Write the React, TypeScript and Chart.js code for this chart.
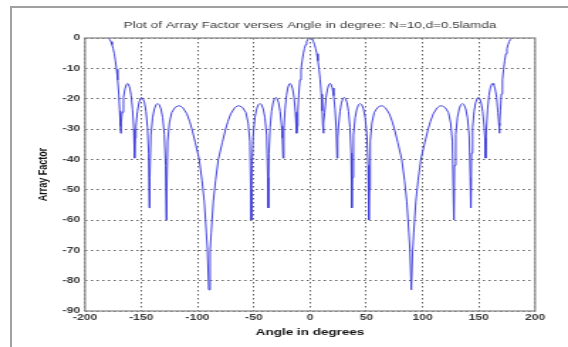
import { useEffect, useRef } from "react";
import { Chart, registerables } from "chart.js";

Chart.register(...registerables);

// ---- Data (angle in degrees, array factor in dB) ----
const leftOuterAngle = [
  -180, -179, -178, -177, -176, -175, -174, -173, -172, -171, -170, -169.2, -168.6, -168.2, -167.8, -167,
  -165.8, -164.5, -163.3, -162.4, -161.4, -160.2, -159, -157.8, -156.7, -156, -155.4, -154.7, -153.4,
  -152.1, -150.8, -149.7, -148.4, -147.1, -145.8, -144.5, -143.5, -142.9, -142.4, -141.4, -139.9, -138.4,
  -136.9, -135.5, -134, -132.5, -131, -129.5, -128.4, -127.8, -127.3, -126.5, -125, -123, -120, -117.5,
  -115.4, -113, -109.5, -107, -105, -102, -98.5, -96, -94, -92.2, -91.2,
];
const leftOuterAF = [
  0, -0.1, -0.5, -1.2, -2.2, -3.5, -5.2, -7.5, -10.3, -13.8, -18.5, -24, -29, -31.4, -28, -24.5,
  -19.6, -16.8, -15.4, -15, -15.2, -16.5, -19, -23.5, -30, -39.6, -33, -29, -24.2,
  -21.4, -20, -19.6, -20, -21.4, -24.2, -29.5, -38, -56, -46, -32, -26.2, -23.4,
  -22, -21.6, -22, -23.4, -26.2, -31.8, -42, -60, -50, -34, -28, -24.6, -22.9, -22.4,
  -22.4, -23, -25, -27.5, -30, -34.5, -40, -47, -54, -64, -70,
];

const leftInnerAngle = [
  -90, -88.8, -87.8, -86, -84, -81.5, -78, -75, -73, -70.5, -67, -64.6, -62.5, -60, -57, -55, -53.5,
  -52.7, -52.2, -51.6, -50.5, -49, -47.5, -46, -44.5, -43.1, -41.6, -40.1, -38.6, -37.6, -37.1, -36.5,
  -35.5, -34.2, -32.9, -31.6, -30.3, -29.2, -27.9, -26.6, -25.3, -24.6, -24, -23.3, -22.2, -21, -19.8,
  -18.6, -17.6, -16.7, -15.5, -14.2, -13, -12.2, -11.8, -11.4, -10.8, -10, -9, -8, -7, -6, -5, -4, -3,
  -2, -1,
];
const leftInnerAF = [
  -83, -70, -64, -54, -47, -40, -34.5, -30, -27.5, -25, -23, -22.4, -22.4, -22.9, -24.6, -28, -34,
  -50, -60, -42, -31.8, -26.2, -23.4, -22, -21.6, -22, -23.4, -26.2, -32, -46, -56, -38,
  -29.5, -24.2, -21.4, -20, -19.6, -20, -21.4, -24.2, -29, -33, -39.6, -30, -23.5, -19, -16.5,
  -15.2, -15, -15.4, -16.8, -19.6, -24.5, -28, -31.4, -29, -24, -18.5, -13.8, -10.3, -7.5, -5.2, -3.5, -2.2, -1.2,
  -0.5, -0.1,
];

const rightInnerAngle = [
  0, 1, 2, 3, 4, 5, 6, 7, 8, 9, 10, 10.8, 11.4, 11.8, 12.2, 13, 14.2, 15.5, 16.7, 17.6, 18.6, 19.8, 21,
  22.2, 23.3, 24, 24.6, 25.3, 26.6, 27.9, 29.2, 30.3, 31.6, 32.9, 34.2, 35.5, 36.5, 37.1, 37.6, 38.6,
  40.1, 41.6, 43.1, 44.5, 46, 47.5, 49, 50.5, 51.6, 52.2, 52.7, 53.5, 55, 57, 60, 62.5, 64.6, 67, 70.5,
  73, 75, 78, 81.5, 84, 86, 87.8, 88.8, 90,
];
const rightInnerAF = [
  0, -0.1, -0.5, -1.2, -2.2, -3.5, -5.2, -7.5, -10.3, -13.8, -18.5, -24, -29, -31.4, -28, -24.5, -19.6, -16.8, -15.4, -15, -15.2, -16.5, -19,
  -23.5, -30, -39.6, -33, -29, -24.2, -21.4, -20, -19.6, -20, -21.4, -24.2, -29.5, -38, -56, -46, -32,
  -26.2, -23.4, -22, -21.6, -22, -23.4, -26.2, -31.8, -42, -60, -50, -34, -28, -24.6, -22.9, -22.4, -22.4, -23, -25,
  -27.5, -30, -34.5, -40, -47, -54, -64, -70, -83,
];

const rightOuterAngle = [
  91.2, 92.2, 94, 96, 98.5, 102, 105, 107, 109.5, 113, 115.4, 117.5, 120, 123, 125, 126.5, 127.3, 127.8,
  128.4, 129.5, 131, 132.5, 134, 135.5, 136.9, 138.4, 139.9, 141.4, 142.4, 142.9, 143.5, 144.5, 145.8,
  147.1, 148.4, 149.7, 150.8, 152.1, 153.4, 154.7, 155.4, 156, 156.7, 157.8, 159, 160.2, 161.4, 162.4,
  163.3, 164.5, 165.8, 167, 167.8, 168.2, 168.6, 169.2, 170, 171, 172, 173, 174, 175, 176, 177, 178, 179, 180,
];
const rightOuterAF = [
  -70, -64, -54, -47, -40, -34.5, -30, -27.5, -25, -23, -22.4, -22.4, -22.9, -24.6, -28, -34, -50, -60,
  -42, -31.8, -26.2, -23.4, -22, -21.6, -22, -23.4, -26.2, -32, -46, -56, -38, -29.5, -24.2,
  -21.4, -20, -19.6, -20, -21.4, -24.2, -29, -33, -39.6, -30, -23.5, -19, -16.5, -15.2, -15,
  -15.4, -16.8, -19.6, -24.5, -28, -31.4, -29, -24, -18.5, -13.8, -10.3, -7.5, -5.2, -3.5, -2.2, -1.2, -0.5, -0.1, 0,
];

const xMin = -200;
const xMax = 200;
const xStep = 50;
const yMin = -90;
const yMax = 0;
const yStep = 10;

const titleText = "Plot of Array Factor verses Angle in degree: N=10,d=0.5lamda";
const xLabel = "Angle in degrees";
const yLabel = "Array Factor";

// internal canvas is drawn narrower and stretched horizontally, like the reference
const CANVAS_W = 400;
const CANVAS_H = 347;
const SHOW_W = 568;
const FONT = "'Liberation Sans', Arial, Helvetica, sans-serif";

const boxPlugin = {
  id: "matlabBox",
  afterDraw(chart: any) {
    const { ctx, chartArea: a } = chart;
    ctx.save();
    ctx.strokeStyle = "#8a8a8a";
    ctx.lineWidth = 1.3;
    ctx.strokeRect(a.left, a.top, a.right - a.left, a.bottom - a.top);
    ctx.restore();
  },
};

export default function App() {
  const ref = useRef<HTMLCanvasElement | null>(null);

  useEffect(() => {
    if (!ref.current) return;
    const angles = [...leftOuterAngle, ...leftInnerAngle, ...rightInnerAngle, ...rightOuterAngle];
    const values = [...leftOuterAF, ...leftInnerAF, ...rightInnerAF, ...rightOuterAF];
    const points = angles.map((a, i) => ({ x: a, y: values[i] }));

    const gridCommon = {
      color: "#3a3a3a",
      lineWidth: 0.8,
      drawTicks: false,
    };

    const tickFont = { family: FONT, size: 8.5, weight: "bold" as const };

    const chart = new Chart(ref.current, {
      type: "line",
      data: {
        datasets: [
          {
            data: points,
            borderColor: "#4343dc",
            borderWidth: 1,
            pointRadius: 0,
            tension: 0,
            fill: false,
          },
        ],
      },
      options: {
        animation: false,
        responsive: false,
        devicePixelRatio: 1,
        layout: { padding: { left: 0, right: 23.2, top: 0, bottom: 0 } },
        plugins: {
          legend: { display: false },
          tooltip: { enabled: false },
          title: {
            display: true,
            text: titleText,
            fullSize: false,
            color: "#3a3a3a",
            font: { family: FONT, size: 9.5, weight: "normal" },
            padding: { top: 19.3, bottom: 7.3 },
          },
        },
        scales: {
          x: {
            type: "linear",
            min: xMin,
            max: xMax,
            ticks: {
              stepSize: xStep,
              color: "#3a3a3a",
              font: tickFont,
              padding: 1.5,
              maxRotation: 0,
            },
            grid: gridCommon,
            border: { display: false, dash: [1.5, 2.5] },
            title: {
              display: true,
              text: xLabel,
              color: "#111",
              font: { family: FONT, size: 9.5, weight: "bold" },
              padding: { top: 0, bottom: 8.6 },
            },
            afterFit: (s: any) => {
              s.height = 36;
            },
          },
          y: {
            type: "linear",
            min: yMin,
            max: yMax,
            ticks: {
              stepSize: yStep,
              color: "#3a3a3a",
              font: tickFont,
              padding: 3.5,
            },
            grid: gridCommon,
            border: { display: false, dash: [1.5, 2.5] },
            title: {
              display: true,
              text: yLabel,
              color: "#111",
              font: { family: FONT, size: 9, weight: "bold" },
              padding: { top: 24.9, bottom: 0 },
            },
            afterFit: (s: any) => {
              s.width = 59.86;
            },
          },
        },
      },
      plugins: [boxPlugin],
    } as any);

    return () => chart.destroy();
  }, []);

  return (
    <div
      style={{
        position: "absolute",
        left: 0,
        top: 0,
        width: SHOW_W,
        height: CANVAS_H,
        background: "#fff",
        overflow: "hidden",
      }}
    >
      <div
        style={{
          position: "absolute",
          left: 10,
          top: 6,
          right: -10,
          bottom: -10,
          borderLeft: "2px solid #a0a0a0",
          borderTop: "2px solid #a0a0a0",
        }}
      />
      <canvas
        ref={ref}
        width={CANVAS_W}
        height={CANVAS_H}
        style={{ position: "absolute", left: 0, top: 0, width: SHOW_W, height: CANVAS_H }}
      />
    </div>
  );
}
